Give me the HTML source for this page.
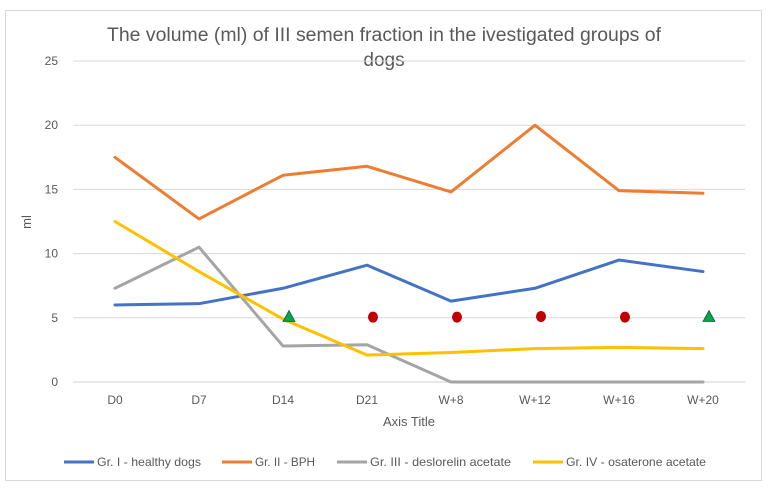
<!DOCTYPE html>
<html><head><meta charset="utf-8"><style>
body{margin:0;background:#fff;}
svg{display:block;font-family:"Liberation Sans",sans-serif;}
</style></head><body>
<svg id="chart" width="768" height="488" viewBox="0 0 768 488">
<rect x="5.5" y="10.5" width="756" height="470" fill="#fff" stroke="#d9d9d9"/>
<text x="384" y="41" text-anchor="middle" font-size="19" fill="#595959" textLength="554" lengthAdjust="spacingAndGlyphs">The volume (ml) of III semen fraction in the ivestigated groups of</text>
<text x="384" y="66" text-anchor="middle" font-size="19" fill="#595959">dogs</text>
<g id="grid"></g><g id="series"></g><g id="markers"></g><g id="axes"></g>
<text transform="translate(31,222) rotate(-90)" text-anchor="middle" font-size="13" fill="#595959">ml</text>
<text x="409" y="426" text-anchor="middle" font-size="13" fill="#595959">Axis Title</text>
<g id="legend"></g>
</svg>
<script>
const categories=["D0","D7","D14","D21","W+8","W+12","W+16","W+20"];
const yTicks=[0,5,10,15,20,25];
const seriesNames=["Gr. I - healthy dogs","Gr. II - BPH","Gr. III - deslorelin acetate","Gr. IV - osaterone acetate"];
const seriesColors=["#4472c4","#ed7d31","#a5a5a5","#ffc000"];
const g1=[6.0,6.1,7.3,9.1,6.3,7.3,9.5,8.6];
const g2=[17.5,12.7,16.1,16.8,14.8,20.0,14.9,14.7];
const g3=[7.3,10.5,2.8,2.9,0,0,0,0];
const g4=[12.5,8.6,4.9,2.1,2.3,2.6,2.7,2.6];
const markerCats=[2,3,4,5,6,7];
const markerVals=[5.1,5.05,5.05,5.1,5.05,5.1];
const markerTypes=["triangle","circle","circle","circle","circle","triangle"];
const seriesData=[g1,g2,g3,g4];
const NS="http://www.w3.org/2000/svg";
const plotLeft=73,plotRight=745,plotTop=61,plotBottom=382,yMax=25;
const step=(plotRight-plotLeft)/categories.length;
function x(i){return plotLeft+step*(i+0.5);}
function y(v){return plotBottom-(v/yMax)*(plotBottom-plotTop);}
function mk(tag,attrs,parent){const e=document.createElementNS(NS,tag);for(const k in attrs)e.setAttribute(k,attrs[k]);parent.appendChild(e);return e;}
const grid=document.getElementById('grid'),axes=document.getElementById('axes');
yTicks.forEach(t=>{
 const l=mk('line',{x1:plotLeft,x2:plotRight,y1:y(t),y2:y(t),stroke:t===0?'#d0d0d0':'#d9d9d9','stroke-width':1},grid);
 
 
 const tx=mk('text',{x:58,y:y(t)+4,'text-anchor':'end','font-size':12,fill:'#595959'},axes);
 tx.textContent=t;
 
 
});
categories.forEach((c,i)=>{
 const tx=mk('text',{x:x(i),y:404,'text-anchor':'middle','font-size':12,fill:'#595959'},axes);
 tx.textContent=c;
 
 
});
const sg=document.getElementById('series');
seriesData.forEach((d,s)=>{
 const p=mk('polyline',{points:d.map((v,i)=>x(i)+','+y(v)).join(' '),fill:'none',stroke:seriesColors[s],'stroke-width':3,'stroke-linejoin':'round','stroke-linecap':'round'},sg);
 
 
});
const mg=document.getElementById('markers');
markerCats.forEach((c,k)=>{
 const cx=x(c)+6, cy=y(markerVals[k]);
 let m;
 if(markerTypes[k]==='triangle'){
  m=mk('polygon',{points:`${cx},${cy-6} ${cx+6},${cy+5} ${cx-6},${cy+5}`,fill:'#00a650',stroke:'#1a5c2a','stroke-width':0.8},mg);
 } else {
  m=mk('ellipse',{cx:cx,cy:cy,rx:5,ry:5.5,fill:'#c00000'},mg);
 }
 
 
});
const lg=document.getElementById('legend');
const legX=[64,222,337,533];
const legW=[104,60,141,140];
seriesNames.forEach((n,s)=>{
 const l=mk('line',{x1:legX[s],x2:legX[s]+30,y1:462,y2:462,stroke:seriesColors[s],'stroke-width':3},lg);
 
 
 const t=mk('text',{x:legX[s]+33,y:466,'font-size':12,fill:'#595959',textLength:legW[s],lengthAdjust:'spacingAndGlyphs'},lg);
 t.textContent=n;
 
 
});
</script>
</body></html>
